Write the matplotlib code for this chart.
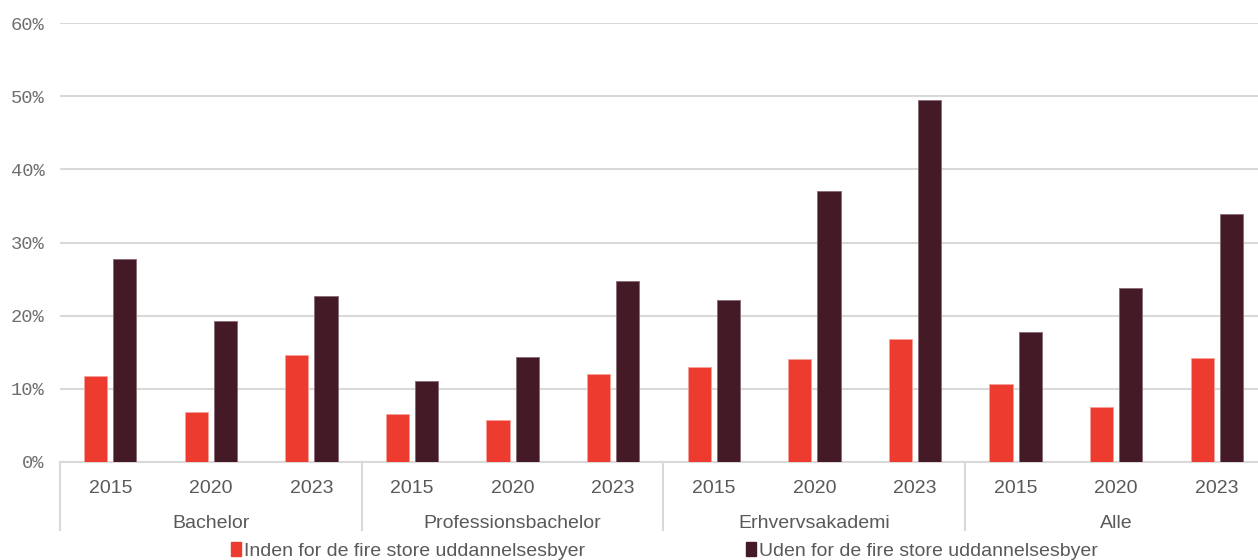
import numpy as np
import matplotlib.pyplot as plt
import matplotlib.transforms as mtransforms
from matplotlib.patches import Patch

# data
groups = ["Bachelor", "Professionsbachelor", "Erhvervsakademi", "Alle"]
years = ["2015", "2020", "2023"]
inden = [11.8, 6.8, 14.6, 6.6, 5.7, 12.0, 13.0, 14.1, 16.8, 10.7, 7.5, 14.2]
uden = [27.7, 19.3, 22.7, 11.1, 14.3, 24.8, 22.2, 37.0, 49.5, 17.8, 23.8, 33.9]
series_names = ["Inden for de fire store uddannelsesbyer",
                "Uden for de fire store uddannelsesbyer"]

RED = "#EE3B2F"
DARK = "#431A26"
GRID = "#D9D9D9"
TXT = "#595959"

W, H = 1258, 560
fig = plt.figure(figsize=(W / 100, H / 100), dpi=100)
ax = fig.add_axes([60 / W, 98 / H, 1207 / W, 439 / H])

n = len(inden)
x = np.arange(n)
bw = 0.23
off = 0.145
ax.bar(x - off, inden, bw, color=RED, edgecolor="#F5A09A", linewidth=0.6, zorder=3)
ax.bar(x + off, uden, bw, color=DARK, edgecolor="#8A6A72", linewidth=0.6, zorder=3)

ax.set_xlim(-0.5, n - 0.5)
ax.set_ylim(0, 60)
ax.set_yticks(range(0, 61, 10))
ax.set_yticklabels([f"{v}%" for v in range(0, 61, 10)],
                   family="Liberation Mono", fontsize=13.5, color="#6E6E6E")
ax.yaxis.grid(True, color=GRID, linewidth=1.5, zorder=0)
ax.tick_params(axis="y", length=0, pad=11)

ax.set_xticks(x)
ax.set_xticklabels(years * len(groups), fontsize=14, color=TXT,
                   family="Liberation Sans")
ax.tick_params(axis="x", length=0, pad=13)

for s in ["top", "right", "left"]:
    ax.spines[s].set_visible(False)
ax.spines["bottom"].set_color(GRID)
ax.spines["bottom"].set_linewidth(1.5)

# group labels and separators under the axis
trans = mtransforms.blended_transform_factory(ax.transData, ax.transAxes)
for i, g in enumerate(groups):
    ax.text(i * 3 + 1, -0.14, g, transform=trans, ha="center", va="center",
            fontsize=14, color=TXT, family="Liberation Sans")
for b in np.arange(-0.5, n, 3):
    ax.plot([b, b], [0, -0.155], transform=trans, color=GRID,
            linewidth=1.5, clip_on=False)

handles = [Patch(color=RED), Patch(color=DARK)]
fig.legend(handles, series_names, loc="center", bbox_to_anchor=(0.528, 0.016),
           ncol=2, frameon=False, handlelength=0.5,
           handleheight=0.7, handletextpad=0.15, columnspacing=8.3,
           prop={"family": "Liberation Sans", "size": 14},
           labelcolor=TXT)

fig.savefig("out.png", dpi=100)
